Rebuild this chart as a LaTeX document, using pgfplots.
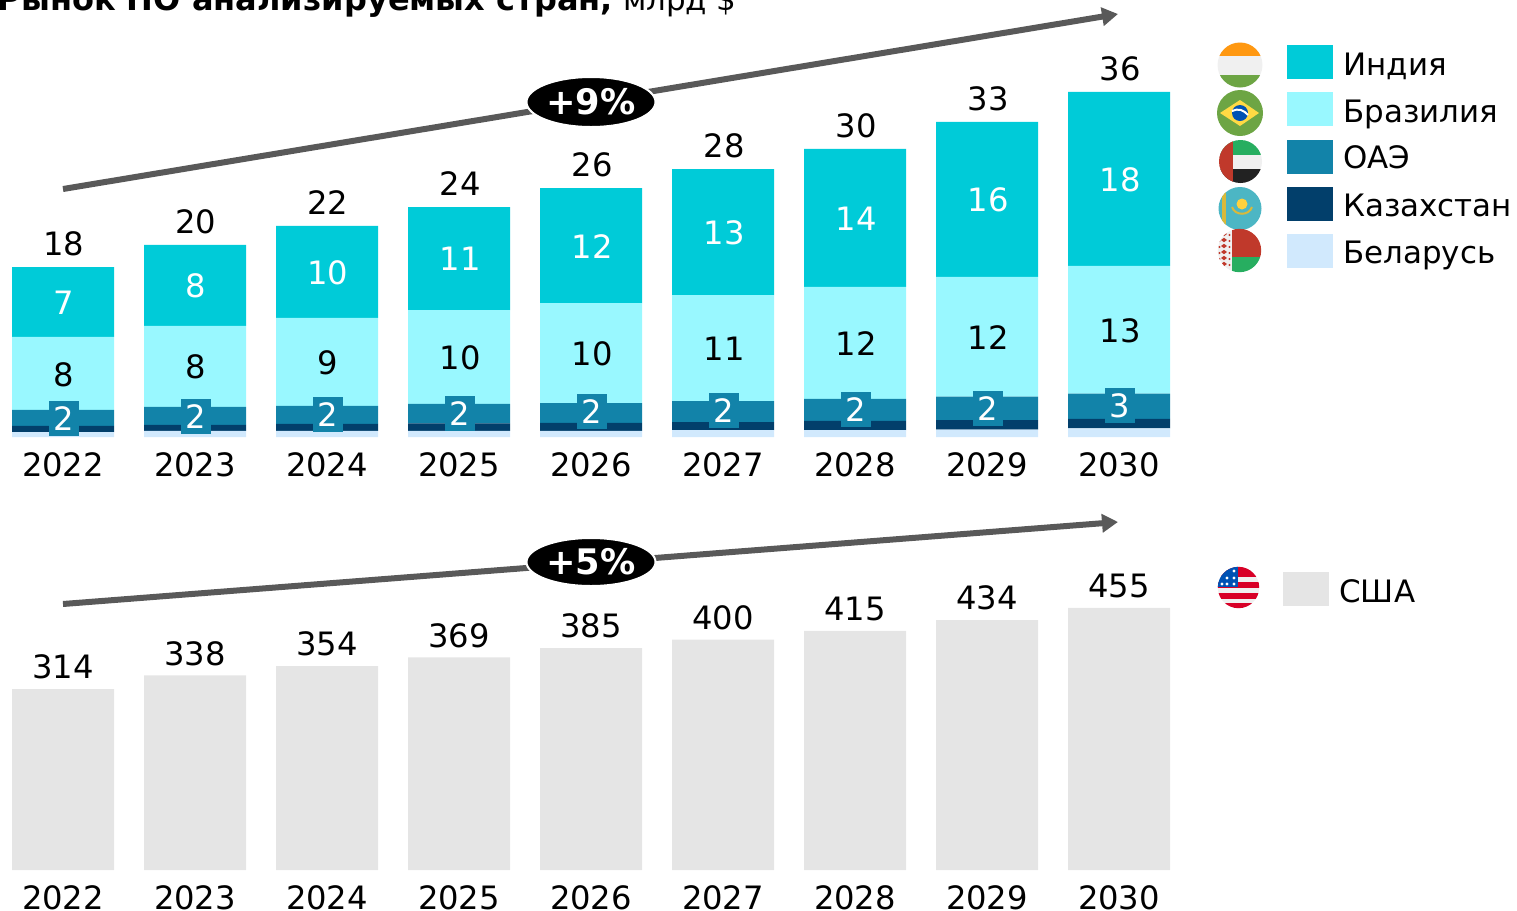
\documentclass[border=0pt]{standalone}
\usepackage{fontspec}
\usepackage{pgfplots}
\usepackage{pgfplotstable}
\pgfplotsset{compat=1.18}
\usetikzlibrary{arrows.meta}
\setmainfont{DejaVu Sans}
\definecolor{cInd}{HTML}{00CBD8}
\definecolor{cBra}{HTML}{99F8FF}
\definecolor{cOae}{HTML}{1283A9}
\definecolor{cKaz}{HTML}{023F6B}
\definecolor{cBel}{HTML}{D1E9FD}
\definecolor{cUsa}{HTML}{E5E5E5}
\definecolor{cArr}{HTML}{595959}
\definecolor{fOr}{HTML}{FF9811}
\definecolor{fGr}{HTML}{6DA544}
\definecolor{fWh}{HTML}{F0F0F0}
\definecolor{fYe}{HTML}{FFDA44}
\definecolor{fBl}{HTML}{0052B4}
\definecolor{fRe}{HTML}{C0392B}
\definecolor{fGn}{HTML}{27AE60}
\definecolor{fBk}{HTML}{222222}
\definecolor{fKz}{HTML}{4CB6C4}
\definecolor{fUr}{HTML}{D80027}
\newcommand\lf{\fontsize{16.1}{18}\selectfont}
\newcommand\gf{\fontsize{15.45}{18}\selectfont}
\pgfplotstableread{
x bel kaz oae bra ind
0 0.52 0.63 1.67 7.60 7.29
1 0.63 0.63 1.88 8.44 8.44
2 0.63 0.73 1.88 9.17 9.58
3 0.63 0.78 2.03 9.79 10.73
4 0.63 0.83 2.08 10.42 11.98
5 0.73 0.83 2.19 11.04 13.13
6 0.73 0.94 2.29 11.67 14.38
7 0.78 0.99 2.45 12.45 16.15
8 0.89 0.99 2.64 13.30 18.13
}\topdata
\pgfplotstableread{
x y
0 314
1 338
2 354
3 369
4 385
5 400
6 415
7 434
8 455
}\usadata
\pgfplotsset{base/.style={
  scale only axis, width=591pt,
  xmin=-0.47727, xmax=8.47727,
  axis y line=none, axis x line*=bottom,
  axis line style={draw=none}, tick style={draw=none},
  xtick={0,...,8},
  xticklabels={2022,2023,2024,2025,2026,2027,2028,2029,2030},
  xticklabel style={font=\lf, anchor=base, text=black, inner sep=0pt},
  ymin=0, clip=false, bar width=51pt,
  /pgf/number format/assume math mode=true,
}}
\begin{document}
\begin{tikzpicture}
\path[use as bounding box] (0pt,0pt) rectangle (758.5pt,-455.5pt);
% top chart
\begin{axis}[base, ybar stacked, at={(0pt,-218.5pt)}, anchor=south west, height=203.5pt,
  ymax=42.4, xticklabel style={yshift=-19.5pt}]
\addplot[draw=none,fill=cBel] table[x=x,y=bel]{\topdata};
\addplot[draw=none,fill=cKaz] table[x=x,y=kaz]{\topdata};
\addplot[draw=none,fill=cOae] table[x=x,y=oae]{\topdata};
\addplot[draw=none,fill=cBra] table[x=x,y=bra]{\topdata};
\addplot[draw=none,fill=cInd] table[x=x,y=ind]{\topdata};
\end{axis}
% top chart: labels
\begin{axis}[at={(0pt,-218.5pt)}, anchor=south west, scale only axis, width=591pt, height=203.5pt,
  xmin=-0.47727, xmax=8.47727, ymin=0, ymax=42.4, hide axis, clip=false,
  point meta=explicit symbolic, nodes near coords,
  every node near coord/.append style={font=\lf, anchor=center, inner sep=0pt, xshift=0.5pt, yshift=-0.3pt}]
\addplot[draw=none, mark=none, nodes near coords style={text=white}] table[x=x,y=y,meta=l]{
x y l
0 14.06 7
1 15.83 8
2 17.19 10
3 18.65 11
4 19.90 12
5 21.35 13
6 22.81 14
7 24.79 16
8 26.88 18
};
\addplot[draw=none, mark=none, nodes near coords style={text=black}] table[x=x,y=y,meta=l]{
x y l
0 6.56 8
1 7.40 8
2 7.81 9
3 8.33 10
4 8.75 10
5 9.27 11
6 9.79 12
7 10.42 12
8 11.15 13
};
\addplot[draw=none, mark=none, nodes near coords style={text=white, fill=cOae, minimum width=15pt, minimum height=17.5pt}] table[x=x,y=y,meta=l]{
x y l
0 2.03 2
1 2.24 2
2 2.36 2
3 2.55 2
4 2.71 2
5 2.81 2
6 2.97 2
7 3.07 2
8 3.33 3
};
\addplot[draw=none, mark=none, nodes near coords style={text=black}] table[x=x,y=y,meta=l]{
x y l
0 20.21 18
1 22.50 20
2 24.48 22
3 26.46 24
4 28.44 26
5 30.42 28
6 32.50 30
7 35.31 33
8 38.44 36
};
\end{axis}
% bottom chart
\begin{axis}[base, ybar, at={(0pt,-435pt)}, anchor=south west, height=150pt,
  ymax=520.8, xticklabel style={yshift=-15.5pt},
  nodes near coords, every node near coord/.append style={font=\lf, text=black, anchor=center, inner sep=0pt, yshift=11pt}]
\addplot[draw=none,fill=cUsa] table[x=x,y=y]{\usadata};
\end{axis}
\begin{scope}[x=0.5pt,y=-0.5pt]
% title
\node[anchor=base east, inner sep=0pt] at (737,10) {\fontsize{16}{18}\selectfont\textbf{Рынок ПО анализируемых стран,} \gf млрд \$};
% arrows
\draw[cArr, line width=3pt, -{Triangle[length=8pt,width=9pt]}] (63,189) -- (1118,14);
\draw[cArr, line width=3pt, -{Triangle[length=8pt,width=9pt]}] (63,604) -- (1118,522);
\draw[white, fill=black, line width=1pt] (591,102) ellipse [x radius=64.5, y radius=25];
\draw[white, fill=black, line width=1pt] (591,562) ellipse [x radius=64.5, y radius=24];
\node[text=white, inner sep=0pt] at (591,102) {\fontsize{17.6}{18}\selectfont\bfseries +9\%};
\node[text=white, inner sep=0pt] at (591,562) {\fontsize{17.6}{18}\selectfont\bfseries +5\%};
% legend boxes
\fill[cInd] (1287,45) rectangle (1333,79);
\fill[cBra] (1287,92) rectangle (1333,126);
\fill[cOae] (1287,140) rectangle (1333,174);
\fill[cKaz] (1287,187) rectangle (1333,221);
\fill[cBel] (1287,234) rectangle (1333,268);
\fill[cUsa] (1283,572) rectangle (1329,606);
\foreach \t/\y in {Индия/75,Бразилия/122.5,ОАЭ/168,Казахстан/216.5,Беларусь/263}
  \node[anchor=base west, inner sep=0pt, font=\gf] at (1343,\y) {\t};
\node[anchor=base west, inner sep=0pt, font=\gf] at (1339,602) {США};
% India
\begin{scope}
\clip (1240,65) circle (22.5);
\fill[fWh] (1215,40) rectangle (1265,90);
\fill[fOr] (1215,40) rectangle (1265,56);
\fill[fGr] (1215,75) rectangle (1265,90);
\end{scope}
% Brazil
\fill[fGr] (1240,113) circle (23);
\fill[fYe] (1220,113) -- (1240,100) -- (1259,113) -- (1240,126) -- cycle;
\fill[fBl] (1240,113) circle (8);
\draw[white, line width=1pt] (1232,111) .. controls (1238,108) and (1244,110) .. (1248,115);
% UAE
\begin{scope}
\clip (1240.5,161.5) circle (21.5);
\fill[fWh] (1215,155) rectangle (1265,169);
\fill[fGn] (1215,138) rectangle (1265,155);
\fill[fBk] (1215,169) rectangle (1265,185);
\fill[fRe] (1215,138) rectangle (1233,185);
\end{scope}
% Kazakhstan
\begin{scope}
\clip (1240,208.5) circle (21.5);
\fill[fKz] (1215,185) rectangle (1265,232);
\fill[fYe!85!black] (1222,190) rectangle (1226,227);
\end{scope}
\fill[fYe!90!orange] (1242,204) circle (5.5);
\draw[fYe!85!black, line width=1pt] (1232,207) .. controls (1235,216) and (1249,216) .. (1252,207);
% Belarus
\begin{scope}
\clip (1239.5,250.5) circle (21.7);
\fill[fRe] (1232,228) rectangle (1263,257);
\fill[fGn] (1232,257) rectangle (1263,274);
\fill[fWh] (1216,228) rectangle (1232,274);
\foreach \a in {234,240,...,270} {
  \fill[fRe] (1224,\a-2.2) -- (1227,\a) -- (1224,\a+2.2) -- (1221,\a) -- cycle;
  \fill[fRe] (1219.5,\a+1) circle (1.2);
  \fill[fRe] (1229.5,\a+1) circle (1.2);
}
\end{scope}
% USA
\begin{scope}
\clip (1238.5,587.5) circle (20.7);
\fill[fWh] (1215,565) rectangle (1262,610);
\foreach \a/\b in {566/577,582/588,593/599,603/610} \fill[fUr] (1215,\a) rectangle (1262,\b);
\fill[fBl] (1215,565) rectangle (1238,587);
\foreach \p/\q in {1234/571,1234/578,1234/584,1227/578,1227/584,1222/584}
  \fill[white] (\p,\q) circle (1.6);
\end{scope}
\end{scope}
\end{tikzpicture}
\end{document}
